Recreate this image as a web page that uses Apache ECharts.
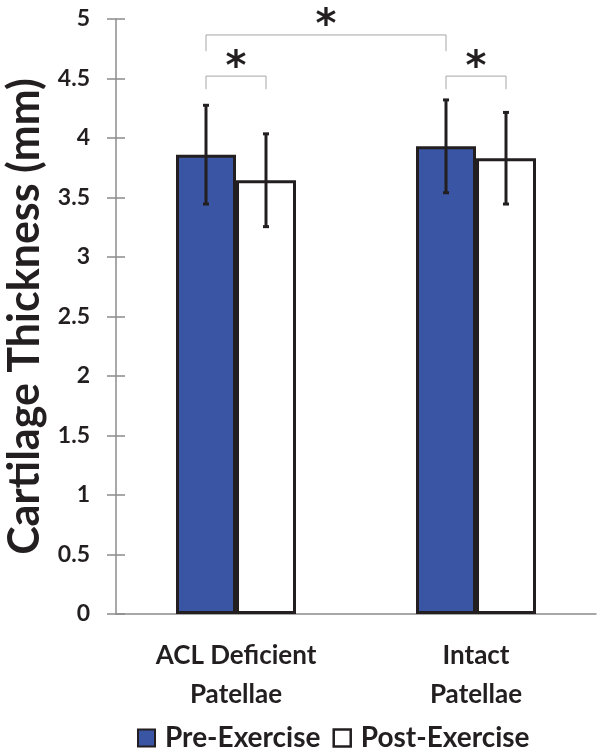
<!DOCTYPE html>
<html>
<head>
<meta charset="utf-8">
<script src="https://cdn.jsdelivr.net/npm/echarts@6/dist/echarts.min.js"></script>
<style>
html,body{margin:0;padding:0;background:#fff;}
#c{width:603px;height:754px;}
</style>
</head>
<body>
<div id="c"></div>
<script>
// ---- data ----
const categories = ['ACL Deficient\nPatellae', 'Intact\nPatellae'];
const seriesNames = ['Pre-Exercise', 'Post-Exercise'];
const preValues = [3.86, 3.93];
const postValues = [3.645, 3.83];
const preErrors = [0.415, 0.39];
const postErrors = [0.39, 0.385];
// significance brackets: [category, series] of each end, top value, foot value
const bracketStart = [[0, 0], [0, 0], [1, 0]];
const bracketEnd = [[1, 0], [0, 1], [1, 1]];
const bracketTop = [4.866, 4.52, 4.52];
const bracketFoot = [4.73, 4.41, 4.41];
const bracketLabel = ['*', '*', '*'];

const FONT = 'Lato, "Open Sans", sans-serif';
const INK = '#231f20';
const BLUE = '#3a55a3';

function barCenter(api, cat, ser, val) {
  const p = api.coord([cat, val]);
  const band = api.size([1, 0])[0];
  return [p[0] + (ser === 0 ? -0.125 : 0.125) * band, p[1]];
}

function errorSeries(name, vals, errs, serIdx) {
  return {
    type: 'custom',
    name: name + ' err',
    silent: true,
    z: 5,
    data: vals.map((v, i) => [i, v - errs[i], v + errs[i]]),
    renderItem: function (params, api) {
      const cat = api.value(0);
      const lo = barCenter(api, cat, serIdx, api.value(1));
      const hi = barCenter(api, cat, serIdx, api.value(2));
      const cap = 3;
      const st = { stroke: INK, lineWidth: 3 };
      return {
        type: 'group',
        children: [
          { type: 'line', shape: { x1: lo[0], y1: lo[1], x2: hi[0], y2: hi[1] }, style: st },
          { type: 'line', shape: { x1: hi[0] - cap, y1: hi[1], x2: hi[0] + cap, y2: hi[1] }, style: st },
          { type: 'line', shape: { x1: lo[0] - cap, y1: lo[1], x2: lo[0] + cap, y2: lo[1] }, style: st }
        ]
      };
    }
  };
}

const bracketData = bracketStart.map((s, i) => [s[0], s[1], bracketEnd[i][0], bracketEnd[i][1], bracketTop[i], bracketFoot[i], i]);

const option = {
  animation: false,
  backgroundColor: '#fff',
  grid: { left: 116, right: 7, top: 19, bottom: 140, containLabel: false, outerBoundsMode: 'none' },
  legend: {
    top: 719,
    left: 132,
    itemWidth: 17,
    itemHeight: 17,
    itemGap: 12,
    icon: 'rect',
    textStyle: { fontFamily: FONT, fontWeight: 'bold', fontSize: 28, color: INK, padding: [0, 0, 0, 5] },
    data: [
      { name: 'Pre-Exercise', itemStyle: { color: BLUE, borderColor: INK, borderWidth: 2 } },
      { name: 'Post-Exercise', itemStyle: { color: '#fff', borderColor: INK, borderWidth: 2.5 } }
    ]
  },
  xAxis: {
    type: 'category',
    data: categories,
    axisLine: { lineStyle: { color: '#8c8c8c', width: 1.5 } },
    axisTick: { show: false },
    axisLabel: {
      fontFamily: FONT, fontWeight: 'bold', fontSize: 26, color: INK,
      lineHeight: 39, margin: 22
    }
  },
  yAxis: [{
    type: 'value',
    min: 0, max: 5, interval: 0.5,
    name: 'Cartilage Thickness (mm)',
    nameLocation: 'middle',
    nameGap: 62,
    nameTextStyle: { fontFamily: FONT, fontWeight: 'bold', fontSize: 43, color: INK },
    axisLine: { show: true, lineStyle: { color: '#8c8c8c', width: 1.5 } },
    axisTick: { show: true, length: 9, lineStyle: { color: '#8c8c8c', width: 1.5 } },
    axisLabel: { fontFamily: FONT, fontWeight: 'bold', fontSize: 23, color: INK, margin: 26 },
    splitLine: { show: false }
  }, {
    type: 'value',
    min: 0, max: 5, interval: 0.5,
    position: 'left',
    axisLine: { show: false },
    axisTick: { show: true, inside: true, length: 9, lineStyle: { color: '#8c8c8c', width: 1.5 } },
    axisLabel: { show: false },
    splitLine: { show: false }
  }],
  series: [
    {
      type: 'bar', name: seriesNames[0], data: preValues,
      barGap: '0%', barCategoryGap: '50%',
      itemStyle: { color: BLUE, borderColor: INK, borderWidth: 3 }
    },
    {
      type: 'bar', name: seriesNames[1], data: postValues,
      barGap: '0%', barCategoryGap: '50%',
      itemStyle: { color: '#fff', borderColor: INK, borderWidth: 3 }
    },
    errorSeries(seriesNames[0], preValues, preErrors, 0),
    errorSeries(seriesNames[1], postValues, postErrors, 1),
    {
      type: 'custom',
      name: 'brackets',
      silent: true,
      z: 6,
      data: bracketData,
      renderItem: function (params, api) {
        const a = barCenter(api, api.value(0), api.value(1), api.value(4));
        const b = barCenter(api, api.value(2), api.value(3), api.value(4));
        const fa = barCenter(api, api.value(0), api.value(1), api.value(5));
        const st = { stroke: '#a6a6a6', lineWidth: 1, fill: null };
        const mid = (a[0] + b[0]) / 2;
        return {
          type: 'group',
          children: [
            { type: 'polyline', shape: { points: [[a[0], fa[1]], [a[0], a[1]], [b[0], a[1]], [b[0], fa[1]]] }, style: st },
            { type: 'text', x: mid, y: a[1] - 8,
              style: { text: bracketLabel[api.value(6)], fontFamily: '"DejaVu Sans", sans-serif', fontWeight: 'bold', fontSize: 40,
                       fill: INK, align: 'center', verticalAlign: 'middle' } }
          ]
        };
      }
    }
  ]
};

const chart = echarts.init(document.getElementById('c'), null, { renderer: 'canvas' });
chart.setOption(option);
</script>
</body>
</html>
